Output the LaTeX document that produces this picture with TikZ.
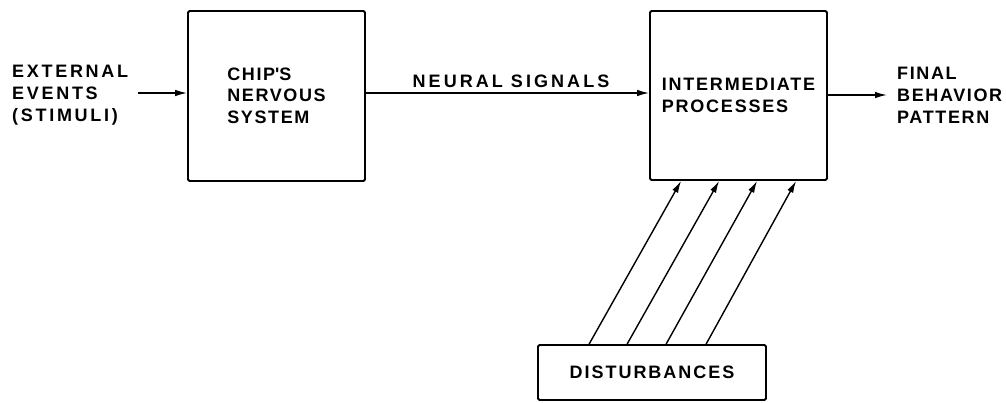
\documentclass[tikz,border=0pt]{standalone}
\usepackage{fontspec}
\setmainfont{Liberation Sans}
\usetikzlibrary{arrows.meta}
\begin{document}
\begin{tikzpicture}[x=1pt,y=-1pt,
  txt/.style={font=\fontsize{18}{22}\selectfont\bfseries\addfontfeatures{LetterSpace=#1},
    align=left, inner sep=0pt},
  txt/.default=10,
  block/.style={draw, line width=1.8pt, rounded corners=1.5pt, inner sep=0pt},
  arr/.style={line width=1.4pt, -{Latex[length=12pt,width=6.5pt]}}]
\useasboundingbox (0,0) rectangle (1006,402);

% blocks
\node[block, txt=9, minimum width=177pt, minimum height=170pt] (chip) at (276.5,96)
  {CHIP\textquotesingle S\\[-0.5pt]NERVOUS\\SYSTEM};
\node[block, txt=10, minimum width=177pt, minimum height=169pt] (inter) at (738.5,95.5)
  {INTERMEDIATE\\PROCESSES};
\node[block, txt=11, minimum width=228pt, minimum height=55pt] (dist) at (652,372.5)
  {DISTURBANCES};

% free labels
\node[txt=15, anchor=west] (ext) at (12,95)
  {EXTERNAL\\EVENTS\\(STIMULI)};
\node[txt=9, anchor=west] (final) at (897,95)
  {FINAL\\BEHAVIOR\\PATTERN};
\node[txt=17] (neural) at (511,81) {NEURAL SIGNALS};

% connectors
\coordinate (extout) at (138,93);
\draw[arr] (extout) -- (extout -| chip.west);
\draw[arr] (chip.east |- extout) -- (inter.west |- extout);
\draw[arr] (inter.east |- final.west) -- ([xshift=-10pt]final.west);
\foreach \a/\b in {52/32, 90/70, 129/108, 169/147}
  \draw[arr] ([xshift=\a pt]dist.north west) -- ([xshift=\b pt]inter.south west);
\end{tikzpicture}
\end{document}
